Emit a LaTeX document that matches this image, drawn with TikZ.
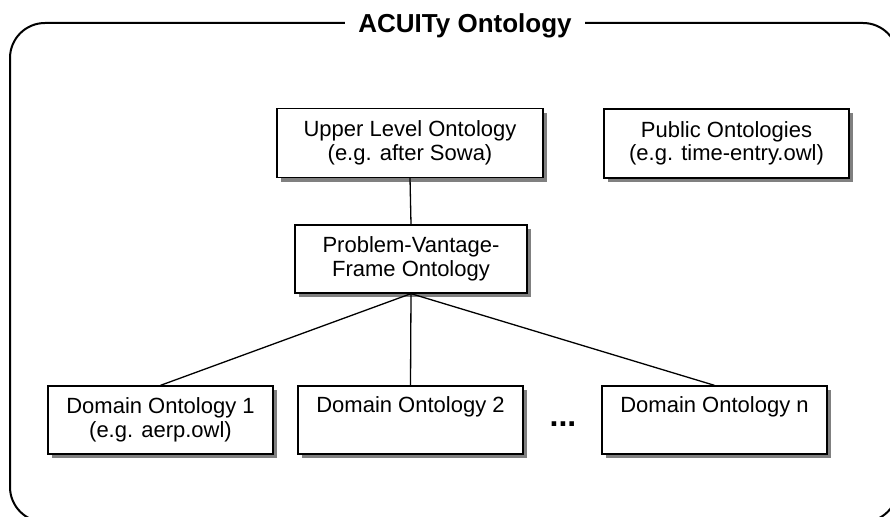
\documentclass[tikz,border=0pt]{standalone}
\usepackage{fontspec}
\setmainfont{Liberation Sans}
\usetikzlibrary{shadows}
\definecolor{shadowgray}{RGB}{128,128,128}
\begin{document}
\begin{tikzpicture}[x=1pt,y=-1pt,
  ontbox/.style={draw=black, line width=1.3pt, fill=white, inner sep=0pt,
    align=center, font=\fontsize{22}{23.5}\selectfont,
    drop shadow={shadow xshift=4pt, shadow yshift=-4pt, fill=shadowgray, opacity=1}},
  link/.style={line width=1.3pt, black}]
\useasboundingbox (0,0) rectangle (890,516);

% outer frame with its title
\draw[line width=2pt, rounded corners=35pt] (10,23) rectangle (898,522);
\node[fill=white, inner xsep=13pt, inner ysep=3pt, anchor=base,
  font=\fontsize{26}{30}\selectfont\bfseries] (title) at (465,32.5) {ACUITy Ontology};

% ontology boxes
\node[ontbox, minimum width=266pt, minimum height=69pt] (upper) at (410,143)
  {Upper Level Ontology\\(e.g. after Sowa)};
\node[ontbox, minimum width=245pt, minimum height=69pt] (public) at (726.5,143.5)
  {Public Ontologies\\(e.g. time-entry.owl)};
\node[ontbox, minimum width=232pt, minimum height=68pt] (pvf) at (411,259)
  {Problem-Vantage-\\Frame Ontology};
\node[ontbox, minimum width=225pt, minimum height=68pt] (d1) at (160.5,420)
  {Domain Ontology 1\\(e.g. aerp.owl)};
\node[ontbox, minimum width=225pt, minimum height=68pt] (d2) at (410.5,420)
  {Domain Ontology 2\\\strut};
\node[ontbox, minimum width=225pt, minimum height=68pt] (dn) at (714.5,420)
  {Domain Ontology n\\\strut};
\node[anchor=base, inner sep=0pt, font=\fontsize{32}{36}\selectfont\bfseries] (dots) at (563,426) {...};

% connectors
\draw[link] (upper.south) -- (pvf.north);
\draw[link] (pvf.south) -- (d1.north);
\draw[link] (pvf.south) -- (d2.north);
\draw[link] (pvf.south) -- (dn.north);
\end{tikzpicture}
\end{document}
